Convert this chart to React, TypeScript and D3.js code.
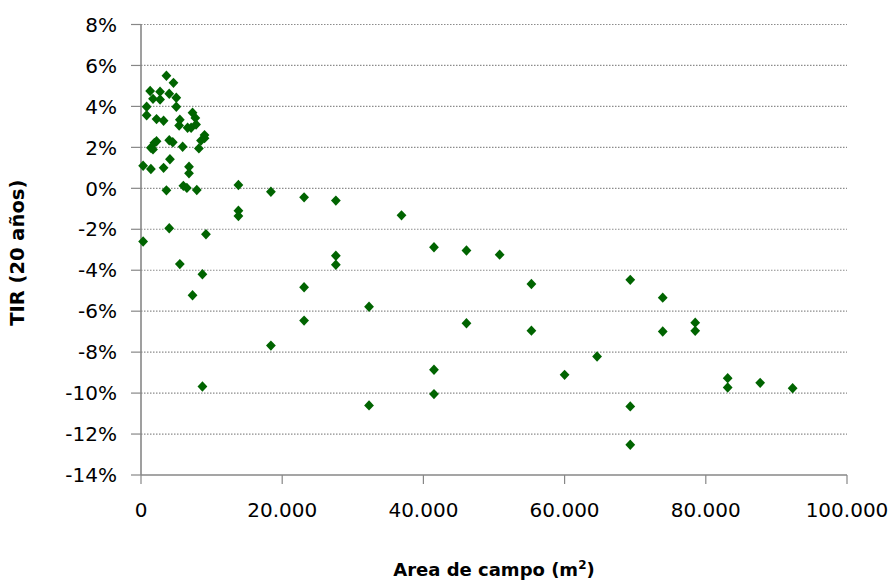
import React from "react";
import * as d3 from "d3";

// Area de campo (m²)
const areas: number[] = [
  3600, 4600, 1300, 2700, 1700, 2700, 4000, 5000, 5000, 800,
  800, 2200, 3200, 7300, 7700, 5500, 5400, 6600, 7100, 7800,
  9000, 9000, 8500, 8200, 4000, 4500, 5900, 1900, 1400, 2200,
  1700, 4100, 3200, 300, 1400, 6800, 6800, 3600, 6000, 6500,
  7900, 13800, 13800, 13800, 4000, 300, 9200, 5500, 8700, 7300,
  8700, 18400, 23100, 27600, 36900, 41500, 46100, 50800, 27600, 27600,
  55300, 23100, 32300, 23100, 46100, 55300, 18400, 41500, 41500, 32300,
  69300, 73900, 73900, 78500, 78500, 64600, 60000, 69300, 69300, 83100,
  83100, 87700, 92300,
];

// TIR (20 años), %
const tir: number[] = [
  5.5, 5.15, 4.75, 4.72, 4.37, 4.34, 4.62, 4.42, 3.98, 3.98,
  3.57, 3.38, 3.3, 3.69, 3.44, 3.35, 3.07, 2.96, 2.96, 3.12,
  2.6, 2.45, 2.33, 1.95, 2.35, 2.25, 2.03, 2.22, 1.98, 2.3,
  1.9, 1.42, 1.0, 1.1, 0.94, 1.05, 0.73, -0.1, 0.12, 0.02,
  -0.08, 0.16, -1.09, -1.35, -1.95, -2.6, -2.24, -3.7, -4.2, -5.22,
  -9.68, -0.17, -0.44, -0.6, -1.32, -2.88, -3.04, -3.24, -3.29, -3.73,
  -4.67, -4.83, -5.78, -6.46, -6.59, -6.95, -7.68, -8.86, -10.05, -10.6,
  -4.47, -5.34, -6.99, -6.56, -6.96, -8.21, -9.11, -10.65, -12.52, -9.27,
  -9.73, -9.5, -9.76,
];

const xTicks: number[] = [0, 20000, 40000, 60000, 80000, 100000];
const yTicks: number[] = [8, 6, 4, 2, 0, -2, -4, -6, -8, -10, -12, -14];

const xTitle = "Area de campo (m";
const yTitle = "TIR (20 años)";

const W = 893;
const H = 581;
const left = 141;
const right = 847;
const top = 24.5;
const bottom = 475;

export default function App() {
  const x = d3.scaleLinear().domain([0, 100000]).range([left, right]);
  const y = d3.scaleLinear().domain([-14, 8]).range([bottom, top]);
  const fmtX = (v: number) =>
    v === 0 ? "0" : d3.format(",")(v).replace(/,/g, ".");
  const diamond = "M0,-5.2L4.9,0L0,5.2L-4.9,0Z";
  const axisColor = "#878787";
  const tickFont = "DejaVu Sans";

  return (
    <svg
      width={W}
      height={H}
      style={{ position: "absolute", left: 0, top: 0, background: "#fff" }}
    >
      <rect x={0} y={0} width={W} height={H} fill="#fff" />
      {/* gridlines */}
      {yTicks
        .filter((t) => t !== -14)
        .map((t) => (
          <line
            key={"g" + t}
            x1={left}
            x2={right}
            y1={y(t)}
            y2={y(t)}
            stroke="#8c8c8c"
            strokeWidth={1.2}
            strokeDasharray="1.5 1.5"
          />
        ))}
      {/* y ticks */}
      {yTicks.map((t) => (
        <line
          key={"yt" + t}
          x1={131}
          x2={left}
          y1={y(t)}
          y2={y(t)}
          stroke={axisColor}
          strokeWidth={1.2}
        />
      ))}
      {/* x ticks */}
      {xTicks.map((t) => (
        <line
          key={"xt" + t}
          x1={x(t)}
          x2={x(t)}
          y1={bottom}
          y2={bottom + 9}
          stroke={axisColor}
          strokeWidth={1.2}
        />
      ))}
      {/* axes */}
      <line x1={left} x2={left} y1={top} y2={bottom} stroke={axisColor} strokeWidth={1.6} />
      <line x1={left} x2={right} y1={bottom} y2={bottom} stroke={axisColor} strokeWidth={1.6} />
      {/* y tick labels */}
      {yTicks.map((t) => (
        <text
          key={"yl" + t}
          x={117}
          y={y(t)}
          dy="0.36em"
          textAnchor="end"
          fontFamily={tickFont}
          fontSize={20}
          fill="#000"
        >
          {t + "%"}
        </text>
      ))}
      {/* x tick labels */}
      {xTicks.map((t) => (
        <text
          key={"xl" + t}
          x={x(t)}
          y={516.5}
          textAnchor="middle"
          fontFamily={tickFont}
          fontSize={20}
          fill="#000"
        >
          {fmtX(t)}
        </text>
      ))}
      {/* points */}
      {areas.map((a, i) => (
        <path
          key={"p" + i}
          d={diamond}
          transform={`translate(${x(a)},${y(tir[i])})`}
          fill="#006400"
        />
      ))}
      {/* axis titles */}
      <text
        x={(left + right) / 2}
        y={576}
        textAnchor="middle"
        fontFamily="DejaVu Sans"
        fontWeight="bold"
        fontSize={18}
        fill="#000"
      >
        {xTitle}
        <tspan dy={-7} fontSize={12}>2</tspan>
        <tspan dy={7}>)</tspan>
      </text>
      <text
        transform={`translate(24,${(top + bottom) / 2 + 3}) rotate(-90)`}
        textAnchor="middle"
        fontFamily="DejaVu Sans"
        fontWeight="bold"
        fontSize={19.5}
        fill="#000"
      >
        {yTitle}
      </text>
    </svg>
  );
}
